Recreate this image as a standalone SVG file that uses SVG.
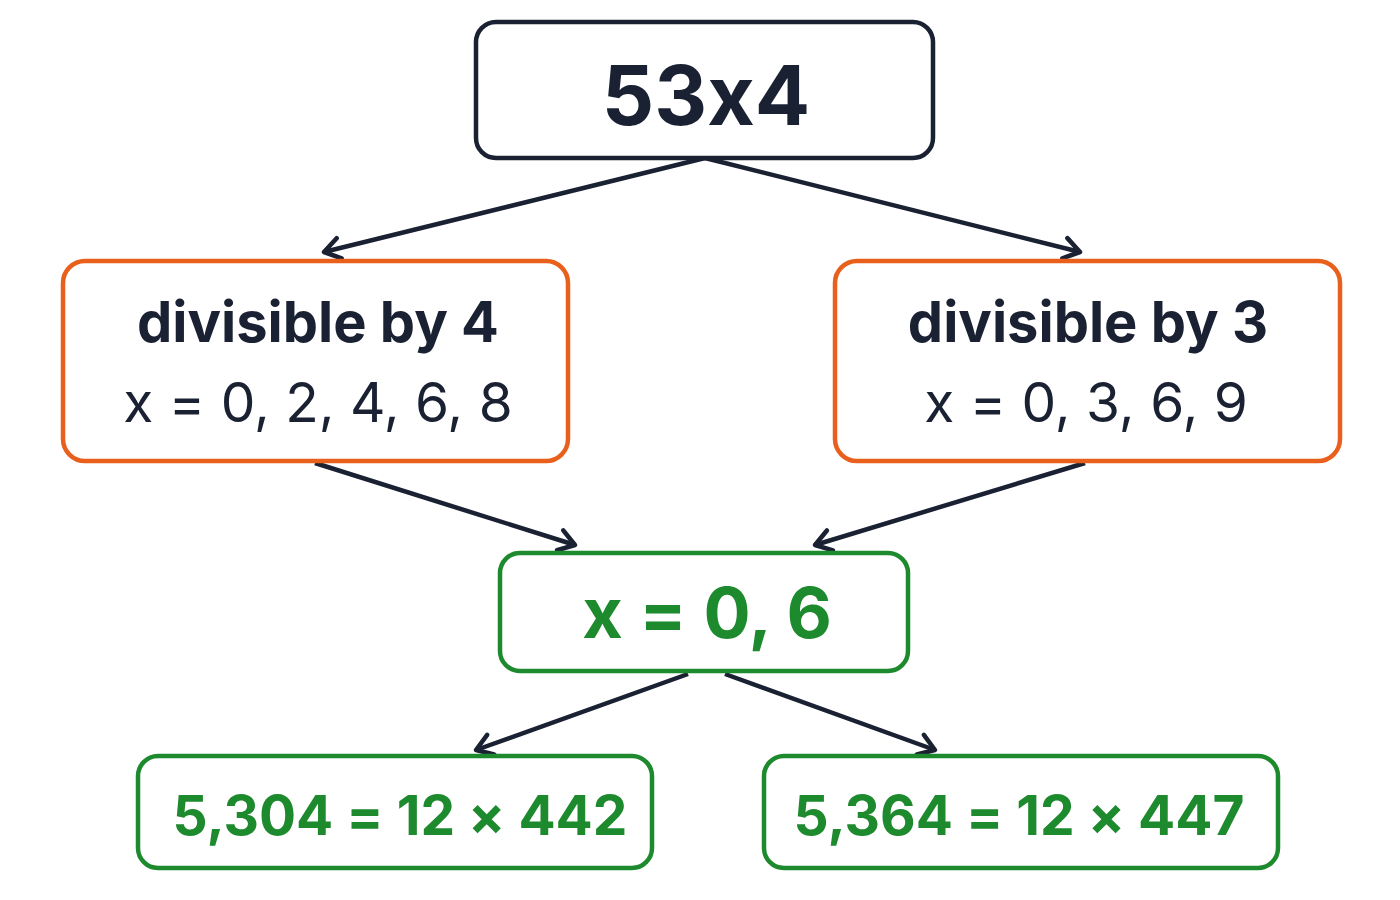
<svg xmlns="http://www.w3.org/2000/svg" width="1400" height="900" viewBox="0 0 1400 900">
<style>
.box{fill:#fff;stroke-width:4.5}
.dark{stroke:#1a2133}
.or{stroke:#e8601c}
.gr{stroke:#1e8a2e}
text{font-family:Inter,"Noto Sans","Liberation Sans",sans-serif;text-anchor:middle;font-feature-settings:"calt" 0}
.b{font-weight:700}
.conn{stroke:#1a2133;stroke-width:4.5;fill:none;marker-end:url(#ah)}
</style>
<defs>
<marker id="ah" viewBox="0 0 20 20" refX="17" refY="10" markerWidth="26" markerHeight="26" markerUnits="userSpaceOnUse" orient="auto" overflow="visible">
<path d="M5,2 L17,10 L5,18" fill="none" stroke="#1a2133" stroke-width="3.5" stroke-linecap="round" stroke-linejoin="round"/>
</marker>
</defs>
<rect width="1400" height="900" fill="#fff"/>
<g id="connectors">
<line class="conn" x1="705" y1="158" x2="324" y2="252"/>
<line class="conn" x1="705" y1="158" x2="1080" y2="252"/>
<line class="conn" x1="315" y1="463" x2="575" y2="545"/>
<line class="conn" x1="1085" y1="463" x2="815" y2="545"/>
<line class="conn" x1="688" y1="674" x2="476" y2="750"/>
<line class="conn" x1="725" y1="674" x2="935" y2="750"/>
</g>
<g id="n-top">
<rect class="box dark" x="476" y="22" width="457" height="136" rx="20"/>
<text class="b" x="706" y="125" font-size="82" fill="#1a2133">53x4</text>
</g>
<g id="n-div4">
<rect class="box or" x="63" y="261" width="505" height="200" rx="22"/>
<text class="b" x="318" y="342" font-size="56" fill="#1a2133">divisible by 4</text>
<text x="318" y="422" font-size="55" fill="#1a2133">x = 0, 2, 4, 6, 8</text>
</g>
<g id="n-div3">
<rect class="box or" x="835" y="261" width="505" height="200" rx="22"/>
<text class="b" x="1088" y="342" font-size="56" fill="#1a2133">divisible by 3</text>
<text x="1086" y="422" font-size="55" fill="#1a2133">x = 0, 3, 6, 9</text>
</g>
<g id="n-x">
<rect class="box gr" x="500" y="553" width="408" height="118" rx="20"/>
<text class="b" x="707" y="638" font-size="70" fill="#1e8a2e">x = 0, 6</text>
</g>
<g id="n-r1">
<rect class="box gr" x="138" y="756" width="514" height="112" rx="20"/>
<text class="b" x="400" y="835" font-size="55" fill="#1e8a2e">5,304 = 12 × 442</text>
</g>
<g id="n-r2">
<rect class="box gr" x="764" y="756" width="514" height="112" rx="20"/>
<text class="b" x="1019" y="835" font-size="55" fill="#1e8a2e">5,364 = 12 × 447</text>
</g>
</svg>
